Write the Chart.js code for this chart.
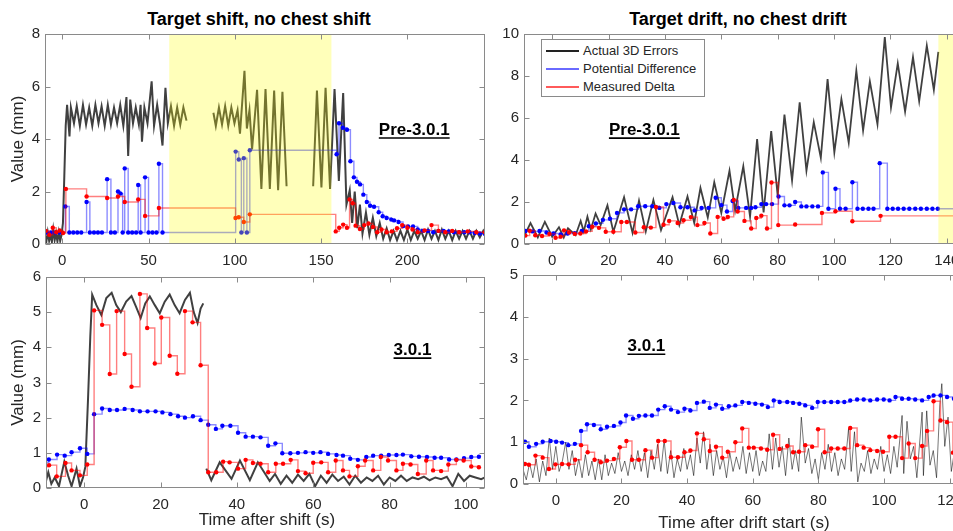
<!DOCTYPE html>
<html>
<head>
<meta charset="utf-8">
<script src="https://cdn.jsdelivr.net/npm/chart.js@4"></script>
<style>
  body { margin:0; width:953px; height:531px; overflow:hidden; position:relative; background:#fff; font-family:Arial, "Liberation Sans", sans-serif; }
  canvas { position:absolute; }
  .ttl { position:absolute; font-weight:bold; font-size:18px; line-height:18px; color:#000; white-space:nowrap; transform:translateX(-50%); }
  .xt { position:absolute; font-size:17px; line-height:17px; color:#262626; white-space:nowrap; transform:translateX(-50%); }
  #legend { position:absolute; left:541px; top:39px; width:162px; height:56px; border:1px solid #8a8a8a; background:#fff; }
  #legend div { position:absolute; left:0; height:18px; width:160px; font-size:13px; line-height:18px; color:#262626; }
  #legend span.ln { position:absolute; left:4px; top:8px; width:33px; height:2px; }
  #legend span.tx { position:absolute; left:41px; top:0; }
</style>
</head>
<body>
<div class="ttl" style="left:259px;top:10px">Target shift, no chest shift</div>
<div class="ttl" style="left:738px;top:10px">Target drift, no chest drift</div>

<canvas id="tl" width="495" height="262" style="left:0;top:20px"></canvas>
<canvas id="tr" width="500" height="262" style="left:495px;top:20px"></canvas>
<canvas id="bl" width="495" height="268" style="left:0;top:263px"></canvas>
<canvas id="br" width="500" height="270" style="left:495px;top:261px"></canvas>

<div id="legend">
  <div style="top:2px"><span class="ln" style="background:#222"></span><span class="tx">Actual 3D Errors</span></div>
  <div style="top:20px"><span class="ln" style="background:#6a6aff"></span><span class="tx">Potential Difference</span></div>
  <div style="top:38px"><span class="ln" style="background:#ff5a5a"></span><span class="tx">Measured Delta</span></div>
</div>

<div class="xt" style="left:267px;top:511px">Time after shift (s)</div>
<div class="xt" style="left:744px;top:514px">Time after drift start (s)</div>

<script>
// ---- Target shift, Pre-3.0.1 ----
const tlBlack = [[-10,0.3],[-9.2,0.1],[-8.4,0.45],[-7.6,0.12],[-6.8,0.35],[-6,0.08],[-5.2,0.55],[-4.4,0.15],[-3.6,0.4],[-2.8,0.1],[-2,0.45],[-1.2,0.12],[-0.4,0.35],[0.4,0.8],[1.2,2.6],[2,4.5],[2.8,5.3],[4.2,4.1],[5,5.2],[6.8,4.6],[8.4,5.25],[10.2,4.5],[12,5.3],[13.8,4.55],[15.6,5.2],[17.4,4.5],[19.2,5.3],[21,4.6],[22.8,5.25],[24.6,4.5],[26.4,5.3],[28.2,4.55],[30,5.2],[31.8,4.6],[33.6,5.3],[35.4,4.5],[37.2,5.6],[38.2,3.35],[39.4,5.5],[41,4.6],[42.6,5.2],[44.4,4.55],[45.4,5.3],[46.2,3.9],[47.6,5.2],[49.4,4.6],[51.8,6.2],[53.2,4.5],[55,5.3],[56.6,4.6],[58.1,3.75],[59.8,5.95],[61.2,4.6],[63,5.25],[64.8,4.5],[66.6,5.2],[68.4,4.55],[70.2,5.2],[72,4.7],[80,null],[87.6,5.0],[89,4.5],[90.8,5.2],[92.6,4.55],[94.4,5.25],[96.2,4.5],[98,5.2],[99.8,4.6],[101.6,5.1],[103,4.2],[105.6,6.6],[107,4.4],[108.5,5.1],[110,3.6],[112.9,5.87],[115.4,2.1],[117.8,5.9],[120.3,2.1],[122.8,5.85],[125.1,2.05],[127.6,5.8],[130,2.2],[138,null],[145.4,2.2],[147.6,5.85],[150.2,2.15],[152.6,5.95],[155.2,2.1],[157.8,5.9],[160.3,2.4],[162.8,5.75],[164.7,1.5],[166.6,2.05],[168,0.8],[169.5,2.0],[171,0.6],[172.5,1.5],[174,0.4],[176,1.2],[178,0.35],[180,1.0],[182,0.3],[184,0.8],[186,0.2],[188,0.6],[190,0.15],[192,0.5],[194,0.15],[196,0.5],[198,0.15],[200,0.55],[202,0.15],[204,0.5],[206,0.2],[208,0.5],[210,0.15],[212,0.55],[214,0.2],[216,0.5],[218,0.15],[220,0.55],[222,0.2],[224,0.5],[226,0.15],[228,0.5],[230,0.2],[232,0.5],[234,0.2],[236,0.5],[238,0.2],[240,0.5],[242,0.25],[244,0.5],[245,0.35]];
const tlBlue = [[-9,0.44],[-6.5,0.44],[-4,0.44],[-1.5,0.44],[1.8,1.43],[4.1,0.44],[6.4,0.44],[8.7,0.44],[11,0.44],[14.1,1.6],[16,0.44],[18.4,0.44],[20.7,0.44],[23,0.44],[26,2.47],[28.2,0.44],[30.5,0.44],[32.3,2.0],[33.8,1.92],[35,0.44],[36.2,2.88],[38.2,0.44],[40.5,0.44],[42.8,0.44],[44,2.25],[45.4,0.44],[48,2.54],[50,0.44],[52.3,0.44],[54.6,0.44],[56,3.06],[58.1,0.44],[100.5,3.52],[102.3,3.22],[103.8,0.44],[105.2,3.27],[107,0.44],[108.7,3.57],[159,3.42],[160.4,4.6],[162.6,4.43],[165,4.35],[167,3.15],[169,2.54],[170.8,2.37],[172.6,2.27],[174.5,1.88],[176.5,1.6],[178.4,1.46],[180.7,1.42],[183.4,1.21],[185.7,1.06],[188,0.99],[190.7,0.93],[192.3,0.9],[194.9,0.84],[197.5,0.68],[200.4,0.67],[203.3,0.67],[206,0.55],[209,0.5],[212,0.5],[215,0.45],[218,0.5],[221,0.5],[224,0.48],[227,0.45],[230,0.45],[233,0.45],[236,0.45],[239,0.42],[242,0.4],[245,0.38]];
const tlRed = [[-9.5,0.5],[-7.5,0.35],[-5.5,0.62],[-3.5,0.45],[-1.5,0.52],[0.5,0.42],[2.1,2.1],[14.1,1.81],[26,1.75],[32.3,1.81],[36.2,1.6],[44,1.7],[48,1.07],[56,1.37],[100.4,0.99],[102.3,1.02],[105.2,0.84],[108.7,1.13],[158.5,0.48],[160.5,0.62],[162.8,0.74],[165,0.62],[166.5,1.7],[168.3,1.55],[170,0.7],[172.5,0.57],[175,0.72],[177.5,0.78],[180,0.65],[182.5,0.45],[185,0.55],[188,0.45],[191,0.48],[194,0.6],[197,0.72],[200,0.62],[203,0.55],[206,0.45],[210,0.52],[214,0.72],[218,0.5],[222,0.45],[226,0.5],[230,0.45],[235,0.48],[240,0.45],[245,0.45]];

// ---- Target drift, Pre-3.0.1 ----
const trBlack = [[-10,0.35],[-7.7,1.0],[-5.1,0.31],[-2.6,1.05],[0,0.35],[2.4,0.8],[4.1,0.31],[5.6,0.75],[8.3,0.42],[10.1,1.1],[11.2,0.6],[12.5,1.3],[13.7,0.69],[15.4,1.45],[17.2,0.9],[19.6,1.84],[21.7,0.58],[25.5,2.23],[28.5,0.53],[30.8,2.07],[33.2,0.6],[35.9,2.1],[38.6,0.66],[42.7,2.23],[45.1,0.9],[48,2.26],[50.4,1.0],[52.6,2.67],[55.2,1.26],[57.5,2.94],[60,1.48],[62.9,3.49],[64.9,1.6],[67.8,3.7],[70.2,1.3],[72.7,5.0],[75,1.5],[77.7,5.38],[80,2.3],[82.4,6.16],[85.1,3.02],[87.8,6.75],[90.2,3.49],[92.8,5.8],[95.3,4.1],[97.7,7.85],[100.1,4.36],[102.6,6.9],[105.2,4.83],[107.9,8.25],[110.3,5.4],[112.7,7.75],[115.4,5.7],[118,9.85],[120.2,6.5],[122.6,8.6],[125.2,6.3],[128,8.9],[130.2,6.8],[132.9,9.45],[135.4,7.34],[137,9.15]];
const trBlue = [[-9.5,0.62],[-7,0.6],[-4.5,0.62],[-2,0.55],[0.5,0.5],[3,0.45],[5.5,0.5],[8,0.52],[10.5,0.62],[13,0.85],[15.5,0.98],[18,1.15],[20.5,1.2],[23,1.48],[25.5,1.65],[28,1.65],[30.5,1.8],[33,1.8],[35.5,1.8],[38,1.72],[40.5,1.9],[43,1.95],[45.5,1.75],[48,1.75],[50.5,1.6],[53,1.72],[55.5,1.72],[58,2.2],[60,1.85],[62,1.55],[64,2.05],[66,1.72],[68.8,1.72],[70.6,1.72],[72.1,1.75],[74.2,1.9],[75.9,1.9],[78,1.9],[80.3,2.26],[82.4,1.84],[84.2,1.84],[86.2,2.0],[88.4,1.79],[90.2,1.79],[92.3,1.79],[94.3,1.79],[96,3.41],[98,1.68],[100.5,2.63],[102.1,1.68],[104.1,1.68],[106.5,2.94],[108.3,1.68],[110.2,1.68],[112.2,1.68],[114,1.68],[116.2,3.85],[118.9,1.68],[120.8,1.68],[122.7,1.68],[124.7,1.68],[126.7,1.68],[128.8,1.68],[130.8,1.68],[132.9,1.68],[134.9,1.68],[136.8,1.68],[150,1.68]];
const trRed = [[-9.5,0.4],[-8,0.63],[-6,0.42],[-3.6,0.38],[-1,0.48],[1.2,0.3],[3,0.35],[4.2,0.65],[6,0.55],[8,0.48],[10,0.5],[12,0.6],[14.2,0.82],[16.6,0.77],[19,0.58],[21.7,0.58],[24.5,1.05],[26.5,1.05],[29.5,0.55],[32.5,0.8],[35,0.78],[36.8,1.76],[39.5,0.92],[41.5,1.1],[44.5,1.0],[46.6,1.13],[49.2,1.28],[51.5,0.9],[54,1.0],[56.1,0.5],[58.7,1.29],[60.8,1.2],[62.3,1.29],[64.4,2.1],[65.8,1.55],[68.2,1.1],[70.6,0.74],[72.4,1.24],[74.2,1.35],[76.2,0.74],[77.8,2.93],[80.2,0.9],[86.2,0.93],[95.7,1.48],[100.5,1.56],[106.5,1.08],[116.5,1.34],[150,1.34]];

// ---- Target shift, 3.0.1 ----
const blBlack = [[-10,0.2],[-9.4,0.45],[-8.6,0.12],[-7.7,0.3],[-6.6,0.05],[-5.2,0.75],[-4.2,0.35],[-3.3,0.05],[-2,0.55],[-1.1,0.05],[-0.3,0.3],[0.3,0.6],[1,2.5],[1.6,4.3],[2.1,5.5],[3.2,5.2],[4.5,4.92],[5.8,5.4],[7.2,5.55],[8.4,5.2],[9.6,5.0],[11,5.3],[12.4,5.46],[13.6,5.15],[14.8,4.83],[16,5.25],[17.2,5.45],[18.5,5.2],[19.8,4.97],[21.1,5.3],[22.4,5.5],[23.7,5.2],[25,4.97],[26.4,5.35],[27.7,5.55],[28.7,5.0],[29.7,4.69],[30.5,5.1],[31.2,5.25],[31.6,null],[32,0.55],[33.3,0.22],[35.5,0.73],[38.6,0.26],[40.8,0.78],[43.4,0.22],[45.5,0.73],[48.6,0.2],[50,0.4],[51.5,0.12],[53,0.35],[54.5,0.15],[56,0.38],[57.5,0.2],[59,0.4],[60.5,0.05],[62,0.35],[63.5,0.15],[65,0.38],[66.5,0.2],[68,0.32],[69.5,0.1],[71,0.35],[72.5,0.15],[74,0.3],[75.5,0.2],[77,0.35],[78.5,0.1],[80,0.3],[81.5,0.2],[83,0.35],[84.5,0.2],[86,0.3],[87.5,0.25],[89,0.32],[90.5,0.22],[92,0.3],[93.5,0.25],[95,0.32],[96.5,0.05],[98,0.4],[99.5,0.2],[101,0.35],[102.5,0.3],[104,0.25],[105,0.3]];
const blBlue = [[-11,0.72],[-9.25,0.81],[-7.1,0.95],[-5.1,0.92],[-3.3,1.02],[-1.1,1.13],[0.8,0.97],[2.6,2.1],[4.7,2.26],[6.7,2.22],[8.6,2.22],[10.6,2.25],[12.7,2.22],[14.6,2.18],[16.6,2.18],[18.7,2.18],[20.5,2.15],[22.6,2.1],[24.6,2.04],[26.4,2.0],[28.5,2.04],[30.5,1.93],[32.5,1.8],[34.5,1.68],[36.2,1.77],[38.3,1.77],[40.3,1.57],[42.3,1.46],[44.2,1.46],[46.2,1.44],[48.2,1.2],[50.1,1.27],[51.9,0.99],[54,0.99],[56,1.0],[58,1.02],[60,1.0],[61.9,1.02],[63.9,0.97],[66.1,0.94],[67.8,0.92],[69.7,0.83],[71.7,0.8],[73.9,0.88],[75.7,0.92],[77.8,0.92],[79.8,0.94],[81.8,0.94],[83.5,0.95],[85.7,0.9],[87.7,0.89],[89.8,0.88],[91.8,0.86],[93.5,0.86],[95.6,0.81],[97.5,0.81],[99.5,0.85],[101.4,0.88],[103.4,0.89]];
const blRed = [[-11,0.6],[-9.2,0.65],[-7.2,0.33],[-4.9,0.71],[-3.3,0.5],[-1.1,0.36],[0.8,0.67],[2.6,5.05],[4.7,4.64],[6.7,3.24],[8.5,5.03],[10.6,3.81],[12.4,2.88],[14.6,5.52],[16.5,4.55],[18.5,3.54],[20.2,4.85],[22.4,3.76],[24.4,3.25],[26.4,5.03],[28.4,4.71],[30.5,3.49],[32.5,0.45],[34.6,0.45],[36.4,0.75],[38.1,0.73],[40.3,0.55],[42.3,0.8],[44.2,0.71],[46.2,0.69],[48.2,0.45],[50.2,0.69],[52.1,0.69],[54.1,0.8],[56,0.48],[58,0.42],[60,0.72],[62.1,0.73],[63.9,0.45],[65.9,0.78],[67.8,0.5],[69.5,0.33],[71.7,0.62],[73.6,0.78],[75.7,0.5],[77.7,0.88],[79.6,0.78],[81.8,0.5],[83.5,0.69],[85.5,0.67],[87.4,0.4],[89.6,0.78],[91.4,0.5],[93.5,0.48],[95.4,0.67],[97.5,0.8],[99.4,0.78],[101.4,0.61],[103.4,0.59]];

// ---- Target drift, 3.0.1 ----
const brBlack = [[-10,0.35],[-9,0.1],[-8,0.5],[-7,0.15],[-6,0.6],[-5,0.05],[-4,0.55],[-3,0.2],[-2,1.1],[-1,0.35],[0,0.9],[1,0.3],[2,0.55],[3,1.0],[4,0.35],[5,0.8],[6,0.2],[7,0.6],[8,0.15],[9,0.7],[10,0.2],[11,0.55],[12,0.1],[13,0.6],[14,0.1],[15,0.7],[16,0.2],[17,0.5],[18,0.25],[19,0.75],[20,0.3],[21,0.55],[22,0.2],[23,0.7],[24,0.35],[25,0.8],[26,0.3],[27,0.75],[28,0.15],[29,0.8],[30,0.35],[31,0.95],[32,0.3],[33,1.05],[34,0.25],[35,0.8],[36,0.15],[37,0.6],[38,0.3],[39,0.85],[40,0.35],[41,0.7],[42,0.2],[43,1.1],[44,0.5],[45,1.25],[46,0.35],[47,0.95],[48,0.2],[49,0.8],[50,0.35],[51,0.65],[52,0.15],[53,0.75],[54,0.3],[55,0.65],[56,0.35],[57,0.9],[58,0.25],[59,0.75],[60,0.3],[61,0.8],[62,0.2],[63,0.55],[64,0.3],[65,1.2],[66,0.35],[67,1.1],[68,0.4],[69,0.9],[70,0.2],[71,1.1],[72,0.35],[73,0.8],[74,0.3],[74.8,1.6],[76,0.5],[77,0.85],[78,0.25],[79,0.6],[80,0.1],[81,0.75],[82,0.35],[83,0.95],[84,0.3],[85,0.75],[86,0.2],[87,0.6],[88,0.35],[89.2,1.33],[90,0.3],[91,1.25],[92,0.05],[93,0.5],[94,0.3],[95,0.8],[96,0.25],[97,0.6],[98,0.35],[99,0.9],[100,0.3],[101,0.7],[102,0.25],[103,0.9],[104,0.4],[105.5,1.64],[106,0.25],[107,1.5],[108,0.6],[109,0.9],[110,0.15],[111.6,1.72],[112,0.2],[113,1.75],[114,0.45],[115,0.8],[116,0.15],[117,1.9],[117.6,2.4],[118.5,0.9],[119.5,1.6],[120.5,0.3],[121.5,0.8],[122.5,0.45],[123.5,0.7],[125,0.3]];
const brBlue = [[-9.4,1.01],[-8.2,0.89],[-6,0.96],[-4,1.01],[-1.6,1.03],[0.1,1.01],[1.9,0.99],[3.8,0.93],[5.8,0.96],[7.7,1.27],[9.5,1.43],[11.6,1.41],[13.7,1.31],[15.6,1.37],[17.7,1.39],[19.7,1.47],[21.4,1.64],[23.5,1.56],[25.3,1.63],[27.3,1.64],[29.3,1.64],[31.2,1.78],[33.2,1.86],[35.1,1.78],[37.2,1.72],[39.2,1.8],[41,1.76],[43,1.94],[45.1,1.97],[46.9,1.82],[48.8,1.9],[50.7,1.8],[52.7,1.86],[54.7,1.88],[56.8,1.96],[58.8,1.94],[60.8,1.92],[62.8,1.9],[64.6,1.84],[66.4,2.0],[68.2,1.96],[70.5,1.96],[72.3,1.94],[74.2,1.92],[76,1.88],[78.1,1.82],[79.8,1.96],[81.8,1.96],[83.9,1.96],[85.9,1.96],[87.9,1.96],[89.7,2.0],[91.8,2.02],[93.8,2.02],[95.8,2.0],[97.9,2.02],[99.9,2.02],[101.7,2.0],[103.5,2.08],[105.5,2.04],[107.5,2.04],[109.5,2.02],[111.6,2.0],[113.6,2.08],[115.1,2.12],[117.2,2.12],[119.2,2.08],[121.3,2.04],[130,2.04]];
const brRed = [[-9.4,0.48],[-8.2,0.46],[-6.2,0.68],[-4,0.63],[-2.1,0.36],[-0.1,0.47],[1.9,0.48],[3.9,0.47],[5.9,0.58],[7.7,0.93],[9.7,0.76],[11.8,0.58],[13.7,0.52],[15.6,0.56],[17.7,0.6],[19.5,0.88],[21.5,1.03],[23.2,0.58],[25.3,0.58],[27.3,0.81],[29.3,0.63],[31.2,1.03],[33.2,1.03],[35.1,0.64],[37.2,0.64],[39.2,0.76],[41,0.8],[43,1.21],[45.1,1.07],[46.9,0.79],[48.8,0.89],[50.7,0.63],[52.4,0.77],[54.7,1.0],[56.8,1.33],[58.8,0.87],[60.3,0.87],[62.5,0.85],[64.4,0.82],[66.2,1.18],[68.2,0.84],[70.5,0.91],[72.3,0.76],[74.1,0.77],[76,0.93],[78.1,0.89],[79.9,1.31],[81.9,0.76],[83.9,0.85],[85.9,0.85],[87.9,0.85],[89.7,1.34],[91.8,0.93],[93.8,0.87],[95.8,0.81],[97.9,0.79],[99.7,0.77],[101.6,1.13],[103.5,1.13],[105.5,0.62],[107.5,0.97],[109.5,0.62],[111.6,0.91],[113.1,1.27],[115.1,1.98],[117.2,1.52],[119.2,1.48],[121,0.75],[130,0.75]];

// tick labels
const tlTicks = [0, 50, 100, 150, 200];
const trTicks = [0, 20, 40, 60, 80, 100, 120, 140];
const blTicks = [0, 20, 40, 60, 80, 100];
const brTicks = [0, 20, 40, 60, 80, 100, 120];

const tickFont = { family: 'Arial, "Liberation Sans", sans-serif', size: 15 };
const pts = a => a.map(p => ({ x: p[0], y: p[1] }));

// box, inward ticks, yellow shading and version note
const frame = {
  id: 'frame',
  afterDatasetsDraw(chart, args, o) {
    if (!o.shade) return;
    const { ctx, chartArea: a, scales: { x } } = chart;
    const x0 = Math.max(a.left, x.getPixelForValue(o.shade[0]));
    const x1 = Math.min(a.right, x.getPixelForValue(o.shade[1]));
    ctx.save();
    ctx.fillStyle = 'rgba(255,255,0,0.27)';
    ctx.fillRect(x0, a.top, x1 - x0, a.bottom - a.top);
    ctx.restore();
  },
  afterDraw(chart, args, o) {
    const { ctx, chartArea: a, scales: { x, y } } = chart;
    ctx.save();
    ctx.strokeStyle = '#8a8a8a';
    ctx.lineWidth = 1;
    const L = Math.round(a.left) + 0.5, R = Math.round(a.right) - 0.5;
    const T = Math.round(a.top) + 0.5, B = Math.round(a.bottom) - 0.5;
    ctx.strokeRect(L, T, R - L, B - T);
    ctx.beginPath();
    x.ticks.forEach(t => {
      const px = Math.round(x.getPixelForValue(t.value)) + 0.5;
      ctx.moveTo(px, B); ctx.lineTo(px, B - 5);
      ctx.moveTo(px, T); ctx.lineTo(px, T + 5);
    });
    y.ticks.forEach(t => {
      const py = Math.round(y.getPixelForValue(t.value)) + 0.5;
      ctx.moveTo(L, py); ctx.lineTo(L + 5, py);
      ctx.moveTo(R, py); ctx.lineTo(R - 5, py);
    });
    ctx.stroke();

    if (o.note) {
      const nx = x.getPixelForValue(o.note[1]);
      const ny = y.getPixelForValue(o.note[2]);
      ctx.font = 'bold 17px Arial, "Liberation Sans", sans-serif';
      ctx.fillStyle = '#000';
      ctx.textAlign = 'center';
      ctx.textBaseline = 'alphabetic';
      ctx.fillText(o.note[0], nx, ny + 6);
      const w = ctx.measureText(o.note[0]).width;
      ctx.strokeStyle = '#000';
      ctx.lineWidth = 1.6;
      ctx.beginPath();
      ctx.moveTo(nx - w / 2, ny + 9);
      ctx.lineTo(nx + w / 2, ny + 9);
      ctx.stroke();
    }
    ctx.restore();
  }
};

function makeChart(id, c) {
  return new Chart(document.getElementById(id), {
    type: 'line',
    data: {
      datasets: [{
        label: 'Actual 3D Errors',
        data: pts(c.black),
        borderColor: c.blackColor,
        borderWidth: c.blackWidth,
        pointRadius: 0,
        order: 3
      }, {
        label: 'Potential Difference',
        data: pts(c.blue),
        stepped: true,
        borderColor: 'rgba(0,0,255,0.45)',
        borderWidth: 1.4,
        pointRadius: 2.2,
        pointBorderWidth: 0,
        pointBackgroundColor: '#0000ff',
        order: 2
      }, {
        label: 'Measured Delta',
        data: pts(c.red),
        stepped: true,
        borderColor: 'rgba(255,0,0,0.5)',
        borderWidth: 1.4,
        pointRadius: 2.2,
        pointBorderWidth: 0,
        pointBackgroundColor: '#ff0000',
        order: 1
      }]
    },
    options: {
      responsive: false,
      animation: false,
      events: [],
      layout: { padding: c.pad },
      plugins: {
        legend: { display: false },
        tooltip: { enabled: false },
        frame: { shade: c.shade, note: c.note }
      },
      scales: {
        x: {
          type: 'linear',
          min: c.xmin, max: c.xmax,
          afterBuildTicks: s => { s.ticks = c.xticks.map(v => ({ value: v })); },
          afterFit: s => { s.height = c.xh; },
          grid: { display: false, drawTicks: false },
          border: { display: false },
          ticks: { font: tickFont, color: '#262626', padding: 8, maxRotation: 0, autoSkip: false }
        },
        y: {
          min: 0, max: c.ymax,
          afterFit: s => { s.width = c.yw; },
          grid: { display: false, drawTicks: false },
          border: { display: false },
          ticks: { stepSize: c.ystep, font: tickFont, color: '#262626', padding: 5 },
          title: {
            display: !!c.ytitle, text: 'Value (mm)', color: '#262626',
            font: { family: 'Arial, "Liberation Sans", sans-serif', size: 17 },
            padding: { top: 8, bottom: 0 }
          }
        }
      }
    },
    plugins: [frame]
  });
}

makeChart('tl', {
  black: tlBlack, blue: tlBlue, red: tlRed,
  blackColor: 'rgba(0,0,0,0.75)', blackWidth: 2,
  xmin: -10, xmax: 245, xticks: tlTicks, ymax: 8, ystep: 2,
  yw: 45, xh: 38, pad: { top: 12, right: 10, left: 0, bottom: 0 },
  ytitle: true, shade: [62, 156], note: ['Pre-3.0.1', 204, 4.38]
});
makeChart('tr', {
  black: trBlack, blue: trBlue, red: trRed,
  blackColor: 'rgba(0,0,0,0.75)', blackWidth: 1.8,
  xmin: -10, xmax: 150, xticks: trTicks, ymax: 10, ystep: 2,
  yw: 29, xh: 38, pad: { top: 12, right: 20, left: 0, bottom: 0 },
  shade: [137, 200], note: ['Pre-3.0.1', 32.7, 5.47]
});
makeChart('bl', {
  black: blBlack, blue: blBlue, red: blRed,
  blackColor: 'rgba(0,0,0,0.75)', blackWidth: 2,
  xmin: -10, xmax: 105, xticks: blTicks, ymax: 6, ystep: 1,
  yw: 46, xh: 43, pad: { top: 12, right: 10, left: 0, bottom: 0 },
  ytitle: true, note: ['3.0.1', 86, 3.95]
});
makeChart('br', {
  black: brBlack, blue: brBlue, red: brRed,
  blackColor: 'rgba(0,0,0,0.6)', blackWidth: 0.9,
  xmin: -10, xmax: 130, xticks: brTicks, ymax: 5, ystep: 1,
  yw: 28, xh: 47, pad: { top: 12, right: 12.5, left: 0, bottom: 0 },
  note: ['3.0.1', 27.6, 3.32]
});
</script>
</body>
</html>
